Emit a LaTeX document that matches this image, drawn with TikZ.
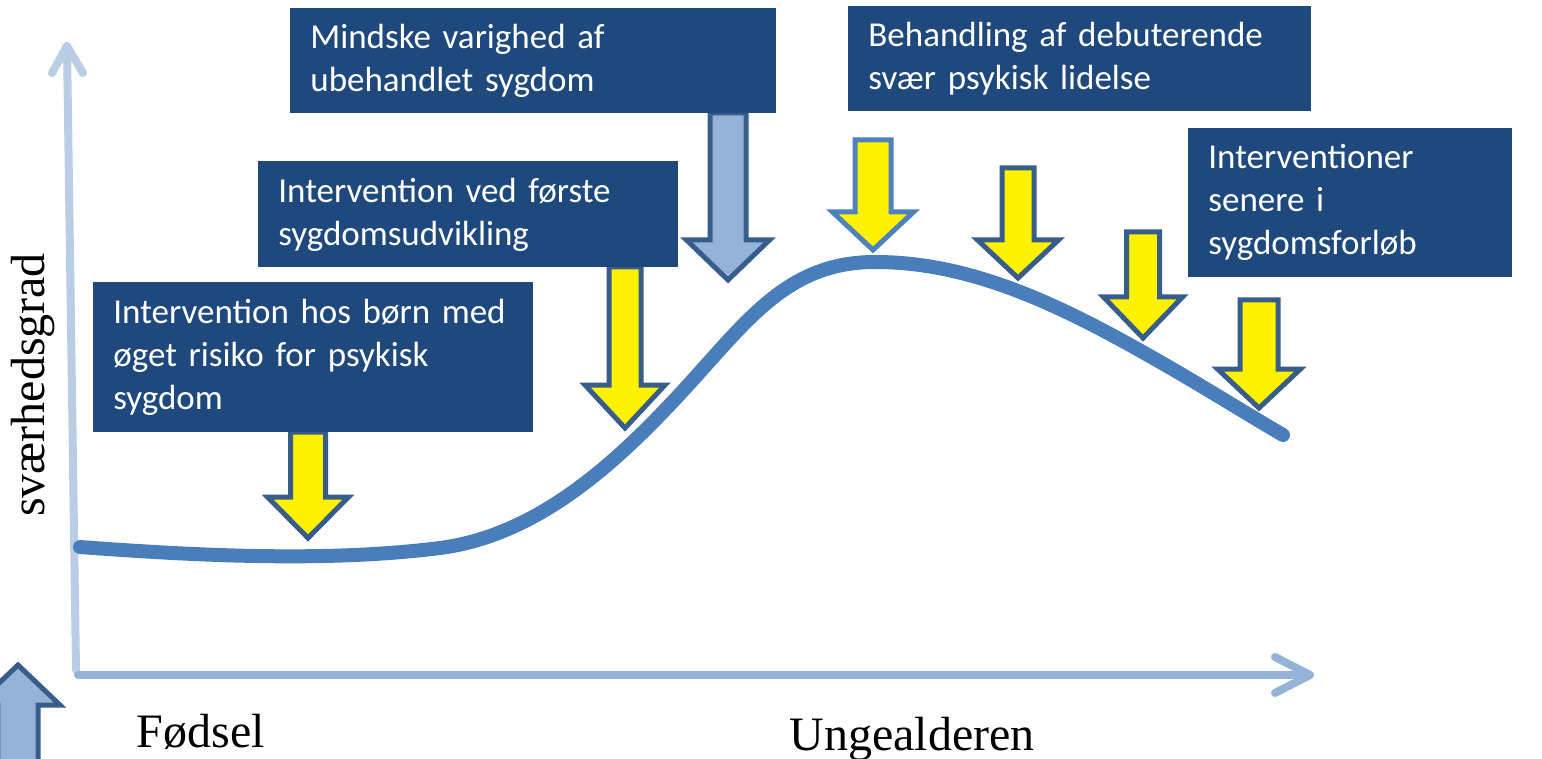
\documentclass[tikz,border=0pt]{standalone}
\usepackage{fontspec}
\setmainfont{Liberation Serif}
\newfontfamily\boxfnt{Carlito}
\definecolor{boxblue}{HTML}{1F497D}
\definecolor{curveblue}{HTML}{4A7EBB}
\definecolor{yaxis}{HTML}{B9CDE5}
\definecolor{xaxis}{HTML}{95B3D7}
\definecolor{arrfill}{HTML}{95B3D7}
\definecolor{arrdark}{HTML}{385D8A}
\definecolor{arrlight}{HTML}{4F81BD}
\newcommand{\dnarr}[7]{%
  \draw[#1] (#2-#6,#3) -- (#2+#6,#3) -- (#2+#6,#4) -- (#2+#7,#4) -- (#2,#5) -- (#2-#7,#4) -- (#2-#6,#4) -- cycle;}
\tikzset{
  box/.style={fill=boxblue, text=white, font=\boxfnt\fontsize{17.5}{21.5}\selectfont, align=left, anchor=north west, inner xsep=10pt, inner ysep=0pt},
  yarr/.style={fill=yellow, draw=arrdark, line width=2.5pt, miter limit=10},
  yarrl/.style={fill=yellow, draw=arrlight, line width=2.5pt, miter limit=10},
  barr/.style={fill=arrfill, draw=arrdark, line width=2.5pt, miter limit=10},
  lbl/.style={font=\fontsize{24}{28}\selectfont, anchor=base, inner sep=0pt}
}
\begin{document}
\begin{tikzpicture}[x=0.5pt,y=-0.5pt]
\clip (0,0) rectangle (1542,759);
\fill[white] (0,0) rectangle (1542,759);
% axes
\draw[yaxis, line width=4pt, line cap=round, line join=round] (76,670) -- (67,46);
\draw[yaxis, line width=4pt, line cap=round, line join=round] (52,73) -- (67,46) -- (83,73);
\draw[xaxis, line width=4pt, line cap=round] (78,675) -- (1308,675);
\draw[xaxis, line width=4pt, line cap=round, line join=round] (1275,657) -- (1310,675) -- (1275,693);
% curve
\draw[curveblue, line width=7pt, line cap=round]
  (80,547) .. controls (200,556) and (330,562) .. (440,548)
  .. controls (540,535) and (620,460) .. (690,383)
  .. controls (750,317) and (790,262) .. (875,262)
  .. controls (960,262) and (1040,295) .. (1130,345)
  .. controls (1190,378) and (1240,410) .. (1283,435);
% arrows
\dnarr{yarr}{308}{432}{497}{538}{17.5}{40.5}
\dnarr{yarr}{625}{267}{385}{428}{16}{40}
\dnarr{barr}{728}{113}{240}{280}{18}{41.5}
\dnarr{yarrl}{873}{140}{212}{250}{18}{40.5}
\dnarr{yarr}{1018}{168}{240}{278}{16}{40.5}
\dnarr{yarr}{1143}{232}{297}{338}{16.5}{39.5}
\dnarr{yarr}{1259}{300}{369}{408}{19}{41.5}
\dnarr{barr}{18}{800}{705}{665}{20}{42}
% boxes
\node[box, text width=223pt, minimum height=52.5pt] (bA) at (290,8) {Mindske varighed af\\ubehandlet sygdom};
\node[box, text width=211.5pt, minimum height=52.5pt] (bB) at (848,6) {Behandling af debuterende\\svær psykisk lidelse};
\node[box, text width=190pt, minimum height=53pt] (bC) at (258,161) {Intervention ved første\\sygdomsudvikling};
\node[box, text width=142pt, minimum height=74.5pt] (bD) at (1188,128) {Interventioner\\senere i\\sygdomsforløb};
\node[box, text width=200pt, minimum height=75pt] (bE) at (93,282) {Intervention hos børn med\\øget risiko for psykisk\\sygdom};
% labels
\node[lbl] (lF) at (201,747) {Fødsel};
\node[lbl] (lU) at (912,750) {Ungealderen};
\node[lbl, rotate=90] (lS) at (44,385) {sværhedsgrad};
\end{tikzpicture}
\end{document}
